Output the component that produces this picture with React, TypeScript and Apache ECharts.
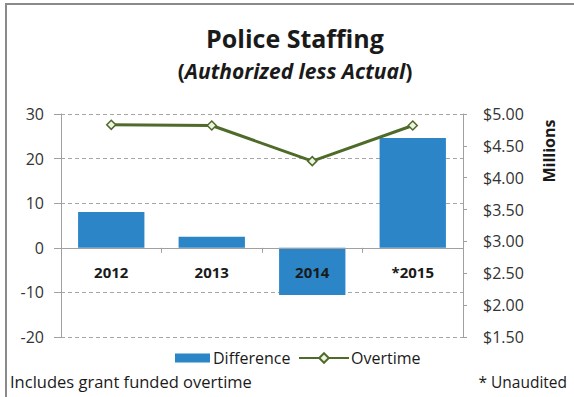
import React, { useEffect, useRef } from "react";
import * as echarts from "echarts";

const categories = ["2012", "2013", "2014", "*2015"];
const differenceValues = [8.0, 2.5, -10.6, 24.6];
const overtimeValues = [4.83, 4.82, 4.26, 4.82];
const leftTicks = { min: -20, max: 30, interval: 10 };
const rightTicks = { min: 1.5, max: 5.0, interval: 0.5 };
const titleLine1 = "Police Staffing";
const titleLine2 = "Authorized less Actual";
const footLeft = "Includes grant funded overtime";
const footRight = "* Unaudited";
const rightAxisName = "Millions";

const FONT = "'Open Sans', 'Noto Sans', sans-serif";
const BLUE = "#2B85C7";
const GREEN = "#4F6B2A";

export default function App() {
  const ref = useRef<HTMLDivElement>(null);
  useEffect(() => {
    if (!ref.current) return;
    const chart = echarts.init(ref.current, undefined, { renderer: "svg" });
    chart.setOption({
      animation: false,
      backgroundColor: "#ffffff",
      textStyle: { fontFamily: FONT },
      title: {
        text: `{a|${titleLine1}}\n{b|(}{c|${titleLine2}}{b|)}`,
        left: 290,
        textAlign: "center",
        top: 16,
        textStyle: {
          rich: {
            a: { fontFamily: FONT, fontSize: 25, fontWeight: "bold", color: "#1a1a1a", lineHeight: 33 },
            b: { fontFamily: FONT, fontSize: 21, fontWeight: "bold", color: "#1a1a1a", lineHeight: 33 },
            c: { fontFamily: FONT, fontSize: 21, fontWeight: "bold", fontStyle: "italic", color: "#1a1a1a", lineHeight: 33 },
          },
        },
      },
      grid: { left: 61, right: 111, top: 114, bottom: 60, containLabel: false },
      legend: [
        {
          data: [{ name: "Difference", icon: "rect" }],
          left: 170,
          top: 345,
          itemWidth: 35,
          itemHeight: 9,
          itemGap: 0,
          textStyle: { fontFamily: FONT, fontSize: 16, color: "#1a1a1a", padding: [0, 0, 0, -2] },
        },
        {
          data: ["Overtime"],
          left: 293,
          top: 345,
          itemWidth: 50,
          itemHeight: 12,
          textStyle: { fontFamily: FONT, fontSize: 16, color: "#1a1a1a", padding: [0, 0, 0, -3] },
        },
      ],
      xAxis: {
        type: "category",
        data: categories,
        z: 10,
        offset: 0,
        axisLine: { onZero: false, lineStyle: { color: "#a0a0a0", width: 1 } },
        axisTick: { show: true, length: 5, lineStyle: { color: "#a0a0a0" } },
        axisLabel: { margin: 17, fontFamily: FONT, fontSize: 15, fontWeight: "bold", color: "#1a1a1a" },
        splitLine: { show: false },
      },
      yAxis: [
        {
          type: "value",
          min: leftTicks.min,
          max: leftTicks.max,
          interval: leftTicks.interval,
          axisLine: { show: true, lineStyle: { color: "#a0a0a0" } },
          axisTick: { show: true, length: 7, lineStyle: { color: "#a0a0a0" } },
          axisLabel: { margin: 17, fontFamily: FONT, fontSize: 16, color: "#333333" },
          splitLine: { show: true, lineStyle: { color: "#a6a6a6", type: [4, 3], width: 1 } },
        },
        {
          type: "value",
          position: "right",
          min: rightTicks.min,
          max: rightTicks.max,
          interval: rightTicks.interval,
          axisLine: { show: true, lineStyle: { color: "#a0a0a0" } },
          axisTick: { show: true, length: 4, lineStyle: { color: "#a0a0a0" } },
          axisLabel: {
            margin: 20,
            fontFamily: FONT,
            fontSize: 16,
            color: "#333333",
            formatter: (v: number) => "$" + v.toFixed(2),
          },
          splitLine: { show: false },
        },
      ],
      series: [
        {
          name: "Difference",
          type: "bar",
          yAxisIndex: 0,
          data: differenceValues,
          barWidth: "66%",
          itemStyle: { color: BLUE },
        },
        {
          name: "Overtime",
          type: "line",
          yAxisIndex: 1,
          data: overtimeValues,
          symbol: "diamond",
          symbolSize: 9,
          z: 5,
          lineStyle: { color: GREEN, width: 3 },
          itemStyle: { color: "#EEF3E2", borderColor: GREEN, borderWidth: 1.5 },
        },
      ],
      graphic: [
        {
          type: "rect",
          shape: { x: 6, y: 4, width: 640, height: 460 },
          style: { fill: "none", stroke: "#8a8a8a", lineWidth: 2 },
          silent: true,
        },
        {
          type: "text",
          x: 549,
          y: 151,
          rotation: Math.PI / 2,
          style: {
            text: rightAxisName,
            fontFamily: FONT,
            fontSize: 16,
            fontWeight: "bold",
            fill: "#1a1a1a",
            align: "center",
            verticalAlign: "middle",
          },
        },
        {
          type: "text",
          left: 10,
          top: 373,
          style: { text: footLeft, fontFamily: FONT, fontSize: 16.5, fill: "#1a1a1a" },
        },
        {
          type: "text",
          right: 7,
          top: 374,
          style: { text: footRight, fontFamily: FONT, fontSize: 15.5, fill: "#1a1a1a" },
        },
      ],
    });
    // place the category axis on the left axis' zero line
    const zeroY = chart.convertToPixel({ yAxisIndex: 0 }, 0) as number;
    const bottomY = chart.convertToPixel({ yAxisIndex: 0 }, leftTicks.min) as number;
    if (isFinite(zeroY) && isFinite(bottomY)) {
      chart.setOption({ xAxis: { offset: zeroY - bottomY } });
    }
    return () => chart.dispose();
  }, []);
  return (
    <div
      ref={ref}
      style={{ position: "fixed", left: 0, top: 0, width: 574, height: 397 }}
    />
  );
}
